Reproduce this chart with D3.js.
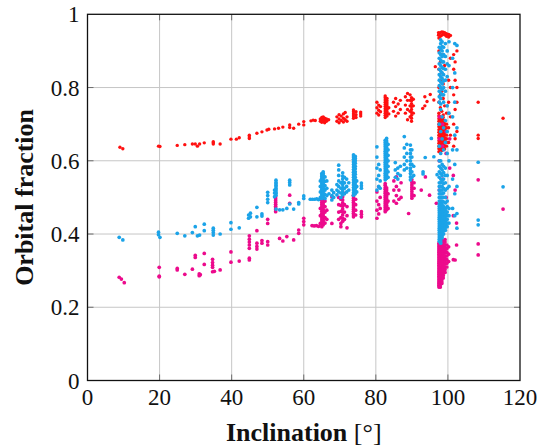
<!DOCTYPE html>
<html>
<head>
<meta charset="utf-8">
<script src="https://cdn.jsdelivr.net/npm/d3@7"></script>
<style>
  body { margin: 0; background: #fff; }
  svg text { font-family: "Liberation Serif", "DejaVu Serif", serif; fill: #111; }
</style>
</head>
<body>
<svg id="chart" width="546" height="446"></svg>
<script>
// axis ticks
var xTicks = [0, 20, 40, 60, 80, 100, 120];
var yTicks = [0, 0.2, 0.4, 0.6, 0.8, 1];

// each entry: [inclination, [orbital fractions at that inclination]]
var redCols = [
  [9.0,[0.637]],[9.8,[0.633]],[19.7,[0.640]],[20.1,[0.639]],[24.9,[0.642]],[27.0,[0.644]],
  [29.1,[0.646]],[29.9,[0.646]],[30.5,[0.640]],[31.1,[0.646]],[32.4,[0.649]],
  [34.9,[0.652,0.646,0.649]],[36.8,[0.646]],[39.8,[0.659]],[41.3,[0.659]],[42.1,[0.663]],
  [44.9,[0.670,0.661,0.665]],[47.0,[0.675]],[48.4,[0.679]],[49.8,[0.684]],[50.3,[0.686]],
  [51.9,[0.687]],[53.0,[0.689]],[54.2,[0.692]],[56.1,[0.698,0.691]],[57.2,[0.689]],
  [58.6,[0.700]],[60.0,[0.707,0.698]],[62.0,[0.709]],[62.6,[0.711]],[63.2,[0.710]],
  [64.6,[0.708,0.714]],[65.0,[0.705,0.712,0.718]],[65.4,[0.707,0.713,0.720]],
  [65.8,[0.704,0.710,0.716]],[66.3,[0.708,0.714]],[66.9,[0.712]],
  [69.2,[0.708,0.720]],[69.8,[0.704,0.714,0.726]],[70.4,[0.710,0.722]],
  [71.0,[0.706,0.716,0.728]],[71.5,[0.712,0.732]],[72.0,[0.708,0.720]],
  [73.8,[0.716,0.722,0.728,0.734,0.739]],[74.5,[0.718,0.726,0.734]],[75.8,[0.722,0.728,0.733]],
  [80.3,[0.730,0.745,0.760]],[80.8,[0.725,0.738,0.752]],[81.3,[0.734,0.748]],
  [82.6,[0.718,0.724,0.730,0.736,0.742,0.748,0.754,0.760,0.766,0.772,0.777]],
  [83.1,[0.722,0.728,0.734,0.740,0.746,0.752,0.758,0.764,0.770]],[83.6,[0.728,0.745]],
  [84.9,[0.735,0.760]],[85.5,[0.722,0.748,0.770]],[86.2,[0.730,0.755]],[86.8,[0.740,0.765]],
  [88.2,[0.730,0.752,0.775]],[88.8,[0.712,0.740,0.765,0.784]],
  [89.5,[0.720,0.735,0.750,0.765,0.780]],[89.9,[0.708,0.716,0.724,0.732,0.740,0.748,0.756,0.764,0.772]],
  [90.4,[0.730,0.750,0.768]],
  [93.0,[0.743]],[93.6,[0.775,0.750]],[94.2,[0.762]],[95.1,[0.781]],[96.1,[0.766]],[96.5,[0.857]],
  [97.4,[0.943,0.950]],
  [97.5,[0.625,0.633,0.640,0.648,0.655,0.663,0.670,0.678,0.685,0.693,0.700,0.708,0.715,0.723,0.730,0.760,0.800,0.850,0.900,0.935,0.945]],
  [97.9,[0.630,0.638,0.645,0.653,0.660,0.668,0.675,0.683,0.690,0.698,0.705,0.713,0.720,0.745,0.780,0.820,0.870,0.940,0.950]],
  [98.3,[0.628,0.635,0.642,0.650,0.657,0.665,0.672,0.680,0.688,0.695,0.703,0.711,0.718,0.735,0.790,0.840,0.890,0.943,0.952]],
  [98.7,[0.635,0.643,0.650,0.658,0.665,0.673,0.680,0.688,0.695,0.703,0.710,0.718,0.725,0.770,0.810,0.946,0.951]],
  [99.1,[0.632,0.640,0.648,0.656,0.663,0.671,0.678,0.686,0.693,0.700,0.708,0.750,0.860,0.944,0.950]],
  [99.6,[0.640,0.650,0.660,0.670,0.680,0.690,0.700,0.730,0.940,0.947]],[100.2,[0.650,0.690,0.760,0.820,0.938,0.945]],
  [100.7,[0.670,0.720,0.800,0.880,0.942]],
  [101.6,[0.640,0.700,0.780,0.850,0.890]],[102.0,[0.660,0.740,0.820,0.870]],
  [102.5,[0.680,0.760,0.800,0.900]],
  [108.4,[0.760,0.670,0.661]],[115.3,[0.716]]
];

var magentaCols = [
  [8.8,[0.282]],[9.4,[0.277]],[10.2,[0.267]],[19.9,[0.309,0.285,0.283]],[24.9,[0.302,0.306]],
  [27.0,[0.290]],[29.1,[0.304]],[29.9,[0.336,0.342]],[31.0,[0.286,0.291]],[31.3,[0.289]],
  [32.4,[0.347,0.317]],[34.7,[0.309,0.315,0.322,0.331,0.297]],[35.2,[0.298]],[36.8,[0.302]],
  [39.8,[0.351,0.323]],[42.1,[0.326]],[44.9,[0.361,0.370,0.378,0.386,0.395,0.329,0.334]],
  [47.0,[0.409,0.359,0.366,0.375]],[48.4,[0.375,0.382]],[50.0,[0.370,0.379,0.429,0.440]],
  [52.2,[0.461,0.466,0.471,0.476,0.481,0.486,0.491,0.496,0.502]],[53.3,[0.388]],[54.2,[0.381]],
  [55.3,[0.393]],[56.1,[0.484,0.506]],[57.2,[0.384]],[58.6,[0.402,0.411]],
  [60.0,[0.425,0.434,0.443]],[62.3,[0.423]],[62.9,[0.422]],[63.5,[0.423]],[64.1,[0.421]],
  [64.6,[0.429,0.450,0.470]],[65.0,[0.420,0.426,0.432,0.438,0.444,0.450,0.456,0.462,0.468,0.474,0.480,0.486,0.492]],
  [65.4,[0.425,0.431,0.437,0.443,0.449,0.455,0.461,0.467,0.473,0.479,0.485,0.491,0.498]],[65.9,[0.430,0.445,0.460,0.475,0.490]],
  [66.4,[0.440,0.465]],[67.8,[0.502,0.429]],
  [69.7,[0.440,0.460,0.480,0.500]],[70.3,[0.429,0.445,0.462,0.478,0.495,0.420]],
  [70.8,[0.435,0.443,0.452,0.460,0.468,0.476,0.485,0.493,0.502]],[71.3,[0.440,0.460,0.480,0.511]],[72.0,[0.417,0.450,0.475]],
  [73.8,[0.447,0.452,0.457,0.462,0.467,0.472,0.477,0.482,0.487,0.492,0.497,0.502,0.506]],[74.4,[0.452,0.465,0.480,0.495]],
  [76.0,[0.447,0.454,0.461]],
  [80.3,[0.443,0.465,0.490,0.515]],[80.8,[0.455,0.480,0.529]],[81.2,[0.470,0.500]],
  [82.6,[0.461,0.466,0.472,0.477,0.483,0.488,0.494,0.500,0.505,0.511,0.516,0.522,0.527,0.533,0.538]],
  [83.0,[0.466,0.472,0.478,0.484,0.490,0.496,0.502,0.508,0.514,0.520,0.526]],[83.4,[0.470,0.490,0.510]],
  [85.0,[0.490,0.520,0.545]],[85.7,[0.484,0.505,0.530,0.556]],[86.4,[0.495,0.520]],[87.0,[0.500,0.540]],
  [89.1,[0.456]],[90.0,[0.498,0.504,0.510,0.516,0.522,0.528,0.534,0.541,0.548]],[90.6,[0.505,0.525,0.540]],
  [92.6,[0.520]],[93.75,[0.556]],[94.9,[0.506]],[96.8,[0.484]],
  [97.5,[0.255,0.260,0.265,0.270,0.275,0.280,0.285,0.290,0.295,0.300,0.305,0.310,0.315,0.320,0.325,0.330,0.335,0.340,0.345,0.350,0.355,0.360,0.365,0.370,0.375]],
  [97.9,[0.255,0.262,0.268,0.275,0.282,0.288,0.295,0.302,0.308,0.315,0.322,0.328,0.335,0.342,0.348,0.355,0.362,0.368,0.375,0.382,0.390]],
  [98.3,[0.265,0.270,0.275,0.280,0.285,0.290,0.295,0.300,0.305,0.310,0.315,0.320,0.325,0.330,0.335,0.340,0.345,0.350,0.355,0.360,0.365,0.370,0.375,0.380,0.385]],
  [98.7,[0.280,0.287,0.293,0.300,0.307,0.313,0.320,0.327,0.333,0.340,0.347,0.353,0.360,0.367,0.373,0.380]],
  [99.2,[0.295,0.303,0.310,0.318,0.325,0.333,0.340,0.348,0.355,0.363,0.370,0.378,0.385]],[99.7,[0.310,0.320,0.330,0.340,0.350,0.360,0.370]],
  [100.2,[0.325,0.345,0.365]],
  [97.6,[0.520,0.600,0.660,0.720]],[98.5,[0.550,0.640,0.700]],[99.5,[0.500,0.620,0.680]],
  [100.5,[0.580,0.660]],
  [101.5,[0.330,0.450,0.560]],[102.0,[0.329,0.520]],[102.4,[0.370,0.430]],
  [108.4,[0.548,0.373,0.343]],[115.3,[0.468]]
];

var blueCols = [
  [8.8,[0.391]],[9.8,[0.384]],[19.7,[0.405,0.398]],[20.1,[0.391]],[24.9,[0.402]],[27.0,[0.395]],
  [29.1,[0.404]],[29.9,[0.420]],[30.5,[0.395]],[31.1,[0.397]],[32.4,[0.427,0.409]],
  [34.9,[0.397,0.404,0.410,0.416]],[36.8,[0.400]],[39.8,[0.431,0.413]],[42.1,[0.417]],
  [44.7,[0.443,0.452]],[45.2,[0.447,0.457]],[47.0,[0.473,0.447]],[48.4,[0.449,0.455]],
  [50.0,[0.486,0.495,0.505,0.514]],[51.9,[0.502,0.512,0.520]],
  [52.3,[0.506,0.511,0.515,0.520,0.524,0.529,0.533,0.537,0.541,0.547,0.468]],[53.3,[0.466]],[54.2,[0.466]],[55.3,[0.470]],
  [56.1,[0.534,0.541,0.547,0.482]],[57.2,[0.468]],[58.6,[0.482,0.486]],[60.0,[0.497,0.504]],
  [61.8,[0.495]],[62.4,[0.495]],[63.0,[0.495]],[63.6,[0.496]],[64.1,[0.494]],
  [64.6,[0.500,0.515,0.530,0.545]],[65.0,[0.497,0.502,0.507,0.512,0.517,0.522,0.527,0.532,0.537,0.542,0.547,0.552,0.557,0.561,0.565]],
  [65.4,[0.500,0.505,0.510,0.515,0.520,0.525,0.530,0.535,0.540,0.545,0.550,0.555,0.560,0.565,0.570]],
  [65.9,[0.497,0.508,0.520,0.532,0.544,0.556]],[66.4,[0.505,0.525,0.545]],[67.0,[0.510]],
  [67.8,[0.493,0.505,0.520]],[68.3,[0.500,0.513]],
  [69.2,[0.507,0.520,0.535]],[69.7,[0.588,0.515,0.530,0.545,0.560,0.575]],
  [70.3,[0.500,0.512,0.525,0.540]],[70.8,[0.507,0.514,0.520,0.527,0.535,0.542,0.550,0.558,0.567]],
  [71.3,[0.510,0.525,0.540,0.555]],[71.9,[0.515,0.530,0.550]],[72.5,[0.520,0.540]],
  [73.8,[0.506,0.513,0.520,0.527,0.534,0.541,0.548,0.555,0.562,0.569,0.576,0.583,0.590,0.597,0.604,0.610,0.616]],
  [74.3,[0.510,0.518,0.525,0.533,0.540,0.548,0.555,0.563,0.570,0.578,0.585,0.593,0.600,0.606,0.612]],[74.7,[0.515,0.530,0.545]],
  [76.0,[0.525,0.532,0.539]],
  [80.3,[0.520,0.550,0.580,0.610,0.638]],[80.8,[0.530,0.560,0.590]],[81.2,[0.525,0.545,0.575]],
  [82.6,[0.548,0.554,0.560,0.566,0.572,0.578,0.584,0.590,0.596,0.602,0.608,0.614,0.620,0.626,0.632,0.638,0.644,0.650,0.656]],
  [83.0,[0.552,0.558,0.564,0.570,0.576,0.582,0.588,0.594,0.600,0.606,0.612,0.618,0.624,0.630,0.636,0.642,0.648,0.654,0.661]],
  [83.4,[0.555,0.570,0.585,0.600,0.615,0.630,0.645]],
  [85.4,[0.555,0.575,0.595]],[86.1,[0.550,0.565,0.580]],[86.8,[0.560,0.585]],
  [87.9,[0.575,0.590,0.610,0.635,0.666]],[88.6,[0.580,0.600,0.620,0.645]],
  [89.6,[0.548,0.556,0.565,0.573,0.580,0.590,0.600,0.610,0.620,0.630,0.643]],[90.0,[0.555,0.570,0.590,0.610,0.630]],
  [90.5,[0.560,0.585]],
  [93.1,[0.570,0.564]],[93.7,[0.609]],[95.4,[0.661]],[96.1,[0.611]],[97.0,[0.562]],
  [97.6,[0.380,0.386,0.392,0.398,0.404,0.410,0.416,0.422,0.428,0.434,0.440,0.446,0.452,0.458,0.464,0.470,0.476,0.482,0.490,0.500,0.510,0.520,0.530,0.540,0.555,0.570,0.585,0.600,0.640,0.700,0.760,0.775,0.790,0.805,0.820,0.835,0.850,0.865,0.880,0.895,0.910]],
  [98.0,[0.375,0.381,0.387,0.393,0.399,0.405,0.411,0.417,0.423,0.429,0.435,0.441,0.447,0.453,0.459,0.465,0.471,0.477,0.483,0.490,0.500,0.510,0.520,0.530,0.540,0.550,0.565,0.580,0.600,0.620,0.680,0.740,0.755,0.770,0.785,0.800,0.815,0.830,0.845,0.860,0.875,0.890,0.905,0.920,0.930]],
  [98.4,[0.390,0.396,0.402,0.408,0.414,0.420,0.426,0.432,0.438,0.444,0.450,0.456,0.462,0.468,0.474,0.480,0.490,0.500,0.510,0.520,0.530,0.545,0.560,0.575,0.590,0.660,0.720,0.780,0.795,0.810,0.825,0.840,0.855,0.870,0.885,0.900,0.912,0.925]],
  [98.8,[0.400,0.408,0.415,0.423,0.430,0.438,0.445,0.453,0.460,0.468,0.475,0.488,0.500,0.512,0.525,0.538,0.550,0.568,0.585,0.630,0.690,0.760,0.780,0.800,0.818,0.835,0.852,0.870,0.890,0.910]],
  [99.3,[0.410,0.418,0.425,0.433,0.440,0.448,0.455,0.463,0.470,0.485,0.500,0.520,0.540,0.560,0.580,0.650,0.710,0.790,0.820,0.850,0.885,0.920]],
  [99.8,[0.420,0.430,0.440,0.450,0.460,0.475,0.490,0.525,0.560,0.620,0.680,0.750,0.830,0.865,0.900]],
  [100.3,[0.430,0.450,0.470,0.530,0.600,0.730,0.860,0.925]],
  [101.3,[0.470,0.550,0.630,0.720,0.800,0.880]],[101.9,[0.450,0.510,0.590,0.670,0.760,0.840,0.920]],
  [102.5,[0.416,0.456,0.530,0.630,0.690,0.915]],
  [108.4,[0.596,0.438,0.425]],[115.3,[0.529]]
];

var series = [
  {name: "red", color: "#ff1010", cols: redCols},
  {name: "magenta", color: "#ec0a8c", cols: magentaCols},
  {name: "blue", color: "#1ba3e8", cols: blueCols}
];

var margin = {top: 14.3, right: 26, bottom: 65.5, left: 87.5};
var svg = d3.select("#chart"),
    width = +svg.attr("width") - margin.left - margin.right,
    height = +svg.attr("height") - margin.top - margin.bottom;

var x = d3.scaleLinear().domain([0, 120]).range([margin.left, margin.left + width]);
var y = d3.scaleLinear().domain([0, 1]).range([margin.top + height, margin.top]);

// grid
var grid = svg.append("g").attr("stroke", "#c6c6c6").attr("stroke-width", 1);
grid.selectAll(".gx").data(xTicks.slice(1, -1)).enter().append("line")
  .attr("x1", d => x(d)).attr("x2", d => x(d))
  .attr("y1", y(0)).attr("y2", y(1));
grid.selectAll(".gy").data(yTicks.slice(1, -1)).enter().append("line")
  .attr("x1", x(0)).attr("x2", x(120))
  .attr("y1", d => y(d)).attr("y2", d => y(d));

// points
series.forEach(function(s) {
  var pts = [];
  s.cols.forEach(function(c) {
    c[1].forEach(function(v) { pts.push([c[0], v]); });
  });
  svg.append("g")
    .attr("fill", s.color)
    .selectAll("circle")
    .data(pts)
    .enter().append("circle")
    .attr("cx", d => x(d[0]))
    .attr("cy", d => y(d[1]))
    .attr("r", s.name == "red" ? 1.7 : 1.85);
});

// inward ticks on all four sides
var tickLen = 6;
var ticks = svg.append("g").attr("stroke", "#6e6e6e").attr("stroke-width", 1);
xTicks.slice(1, -1).forEach(function(t) {
  ticks.append("line").attr("x1", x(t)).attr("x2", x(t)).attr("y1", y(0)).attr("y2", y(0) - tickLen);
  ticks.append("line").attr("x1", x(t)).attr("x2", x(t)).attr("y1", y(1)).attr("y2", y(1) + tickLen);
});
yTicks.slice(1, -1).forEach(function(t) {
  ticks.append("line").attr("x1", x(0)).attr("x2", x(0) + tickLen).attr("y1", y(t)).attr("y2", y(t));
  ticks.append("line").attr("x1", x(120)).attr("x2", x(120) - tickLen).attr("y1", y(t)).attr("y2", y(t));
});

// frame
svg.append("rect")
  .attr("x", x(0)).attr("y", y(1))
  .attr("width", x(120) - x(0)).attr("height", y(0) - y(1))
  .attr("fill", "none").attr("stroke", "#111").attr("stroke-width", 1.3);

// tick labels
svg.append("g").selectAll("text").data(xTicks).enter().append("text")
  .attr("x", d => x(d)).attr("y", y(0) + 24)
  .attr("text-anchor", "middle")
  .attr("font-size", 23)
  .text(d => d);
svg.append("g").selectAll("text").data(yTicks).enter().append("text")
  .attr("x", x(0) - 8).attr("y", d => y(d) + 8)
  .attr("text-anchor", "end")
  .attr("font-size", 23)
  .text(d => d);

// axis titles
var xl = svg.append("text")
  .attr("x", (x(0) + x(120)) / 2).attr("y", 441)
  .attr("text-anchor", "middle")
  .attr("font-size", 26);
xl.append("tspan").attr("font-weight", "bold").text("Inclination");
xl.append("tspan").text(" [°]");

svg.append("text")
  .attr("transform", "translate(33," + ((y(0) + y(1)) / 2) + ") rotate(-90)")
  .attr("text-anchor", "middle")
  .attr("font-size", 26)
  .attr("font-weight", "bold")
  .text("Orbital fraction");
</script>
</body>
</html>
